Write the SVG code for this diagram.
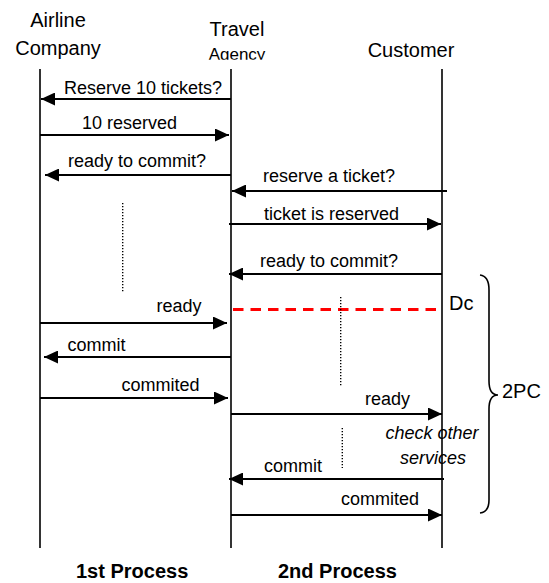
<svg xmlns="http://www.w3.org/2000/svg" width="549" height="583" viewBox="0 0 549 583">
  <style>
    text { font-family: "Liberation Sans", Arial, sans-serif; fill: #000; }
    .hdr { font-size: 20px; }
    .msg { font-size: 18px; }
    .note { font-size: 18px; font-style: italic; }
    .proc { font-size: 20px; font-weight: bold; }
    .life { stroke: #000; stroke-width: 1.6; fill: none; }
    .arrow { stroke: #000; stroke-width: 2; fill: none; marker-end: url(#ah); }
    .dots { stroke: #000; stroke-width: 1.4; stroke-dasharray: 1.2 1.8; fill: none; }
    .dc { stroke: #f00; stroke-width: 3; stroke-dasharray: 10.5 7; fill: none; }
    .brace { stroke: #000; stroke-width: 1.6; fill: none; }
  </style>
  <defs>
    <marker id="ah" viewBox="0 0 14 13" refX="14" refY="6.5" markerWidth="14" markerHeight="13" markerUnits="userSpaceOnUse" orient="auto">
      <path d="M0,0 L14,6.5 L0,13 z" fill="#000"/>
    </marker>
    <clipPath id="agClip">
      <rect x="190" y="40" width="100" height="19.8"/>
    </clipPath>
  </defs>
  <rect width="549" height="583" fill="#fff"/>

  <g id="airline">
    <text class="hdr" x="58" y="26.5" text-anchor="middle">Airline</text>
    <text class="hdr" x="58" y="55" text-anchor="middle">Company</text>
    <line class="life" x1="40" y1="69" x2="40" y2="548"/>
  </g>
  <g id="travel">
    <text class="hdr" x="237" y="35.5" text-anchor="middle">Travel</text>
    <text class="hdr" x="237" y="59.5" text-anchor="middle" style="font-size:17px" clip-path="url(#agClip)">Agency</text>
    <line class="life" x1="231" y1="69" x2="231" y2="548"/>
  </g>
  <g id="customer">
    <text class="hdr" x="411" y="56.5" text-anchor="middle">Customer</text>
    <line class="life" x1="442" y1="69" x2="442" y2="548"/>
  </g>

  <g id="connectors">
    <path class="arrow" d="M231,99 L41,99"/>
    <path class="arrow" d="M40,135 L229,135"/>
    <path class="arrow" d="M231,175 L45,175"/>
    <path class="arrow" d="M447,191 L232,191"/>
    <path class="arrow" d="M229,224 L441,224"/>
    <path class="arrow" d="M442,274 L229,274"/>
    <path class="arrow" d="M40,323 L227,323"/>
    <path class="arrow" d="M231,357 L44,357"/>
    <path class="arrow" d="M40,398 L228,398"/>
    <path class="arrow" d="M231,414 L442,414"/>
    <path class="arrow" d="M444,479 L229,479"/>
    <path class="arrow" d="M231,515 L442,515"/>
    <path class="dc" d="M233,309.5 L442,309.5"/>
    <path class="dots" d="M122.7,203 L122.7,293"/>
    <path class="dots" d="M340.7,297 L340.7,387"/>
    <path class="dots" d="M342.3,428 L342.3,468"/>
  </g>

  <g id="labels">
    <text class="msg" x="64" y="94">Reserve 10 tickets?</text>
    <text class="msg" x="82" y="129">10 reserved</text>
    <text class="msg" x="68" y="167">ready to commit?</text>
    <text class="msg" x="263" y="182">reserve a ticket?</text>
    <text class="msg" x="264" y="219.5">ticket is reserved</text>
    <text class="msg" x="260" y="267">ready to commit?</text>
    <text class="msg" x="156.5" y="311.5">ready</text>
    <text class="msg" x="67.6" y="350.5">commit</text>
    <text class="msg" x="121.5" y="390.5">commited</text>
    <text class="msg" x="365" y="405">ready</text>
    <text class="msg" x="264" y="471.5">commit</text>
    <text class="msg" x="341" y="505">commited</text>
    <text class="note" x="385.5" y="438.5">check other</text>
    <text class="note" x="400" y="463.5">services</text>
  </g>

  <g id="dc">
    <text class="hdr" x="449" y="310">Dc</text>
  </g>
  <g id="twopc">
    <path class="brace" d="M480,275 Q489,276 489,290 L489,381 Q489,395 498,395 Q489,395 489,409 L489,500 Q489,512 480,513"/>
    <text class="hdr" x="502" y="398">2PC</text>
  </g>
  <g id="processes">
    <text class="proc" x="76" y="578">1st Process</text>
    <text class="proc" x="278" y="578">2nd Process</text>
  </g>
</svg>
